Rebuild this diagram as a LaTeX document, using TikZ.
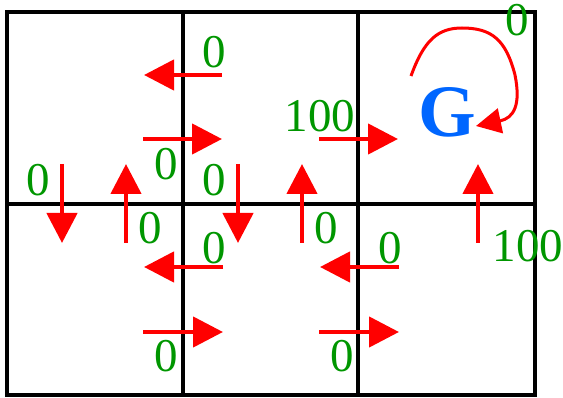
\documentclass[tikz,border=0pt]{standalone}
\usepackage{fontspec}
\setmainfont{Liberation Serif}
\usetikzlibrary{arrows.meta}
\definecolor{vgreen}{RGB}{0,150,0}
\definecolor{gblue}{RGB}{0,102,255}
\begin{document}
\begin{tikzpicture}[x=1pt,y=-1pt,
  grid/.style={line width=3.5pt},
  act/.style={red,line width=4.5pt,-{Triangle[length=30pt,width=30pt]}},
  loopact/.style={red,line width=3pt,-{Triangle[length=25pt,width=25pt]}},
  val/.style={text=vgreen,font=\fontsize{47}{47}\selectfont,inner sep=0pt},
  goal/.style={text=gblue,font=\fontsize{74}{74}\selectfont\bfseries,inner sep=0pt}]
\useasboundingbox (0,0) rectangle (563,398);
% grid
\draw[grid] (7,12) rectangle (535,395);
\draw[grid] (183,12) -- (183,395);
\draw[grid] (358,12) -- (358,395);
\draw[grid] (7,204) -- (535,204);
% arrows
\draw[act] (222,75) -- (144,75);
\draw[act] (143,139) -- (222,139);
\draw[act] (319,139) -- (398,139);
\draw[act] (62,164) -- (62,243);
\draw[act] (126,243) -- (126,164);
\draw[act] (238,164) -- (238,243);
\draw[act] (302,243) -- (302,164);
\draw[act] (478,243) -- (478,164);
\draw[act] (223,267) -- (144,267);
\draw[act] (399,267) -- (320,267);
\draw[act] (143,332) -- (223,332);
\draw[act] (319,332) -- (399,332);
% goal and self loop
\node[goal] (G) at (447,112) {G};
\draw[loopact] (411,76) .. controls (424,40) and (438,28) .. (462,28)
  .. controls (492,28) and (506,40) .. (515,75)
  .. controls (521,105) and (514,118) .. (476,126);
% values
\node[val] (v1) at (214,52) {0};
\node[val] (v2) at (166,164) {0};
\node[val] (v3) at (320,116) {100};
\node[val] (v4) at (38,180) {0};
\node[val] (v5) at (150,228) {0};
\node[val] (v6) at (214,180) {0};
\node[val] (v7) at (326,228) {0};
\node[val] (v8) at (214,248) {0};
\node[val] (v9) at (390,248) {0};
\node[val] (v10) at (528,246) {100};
\node[val] (v11) at (166,356) {0};
\node[val] (v12) at (342,356) {0};
\node[val] (v13) at (517,20) {0};
\end{tikzpicture}
\end{document}
